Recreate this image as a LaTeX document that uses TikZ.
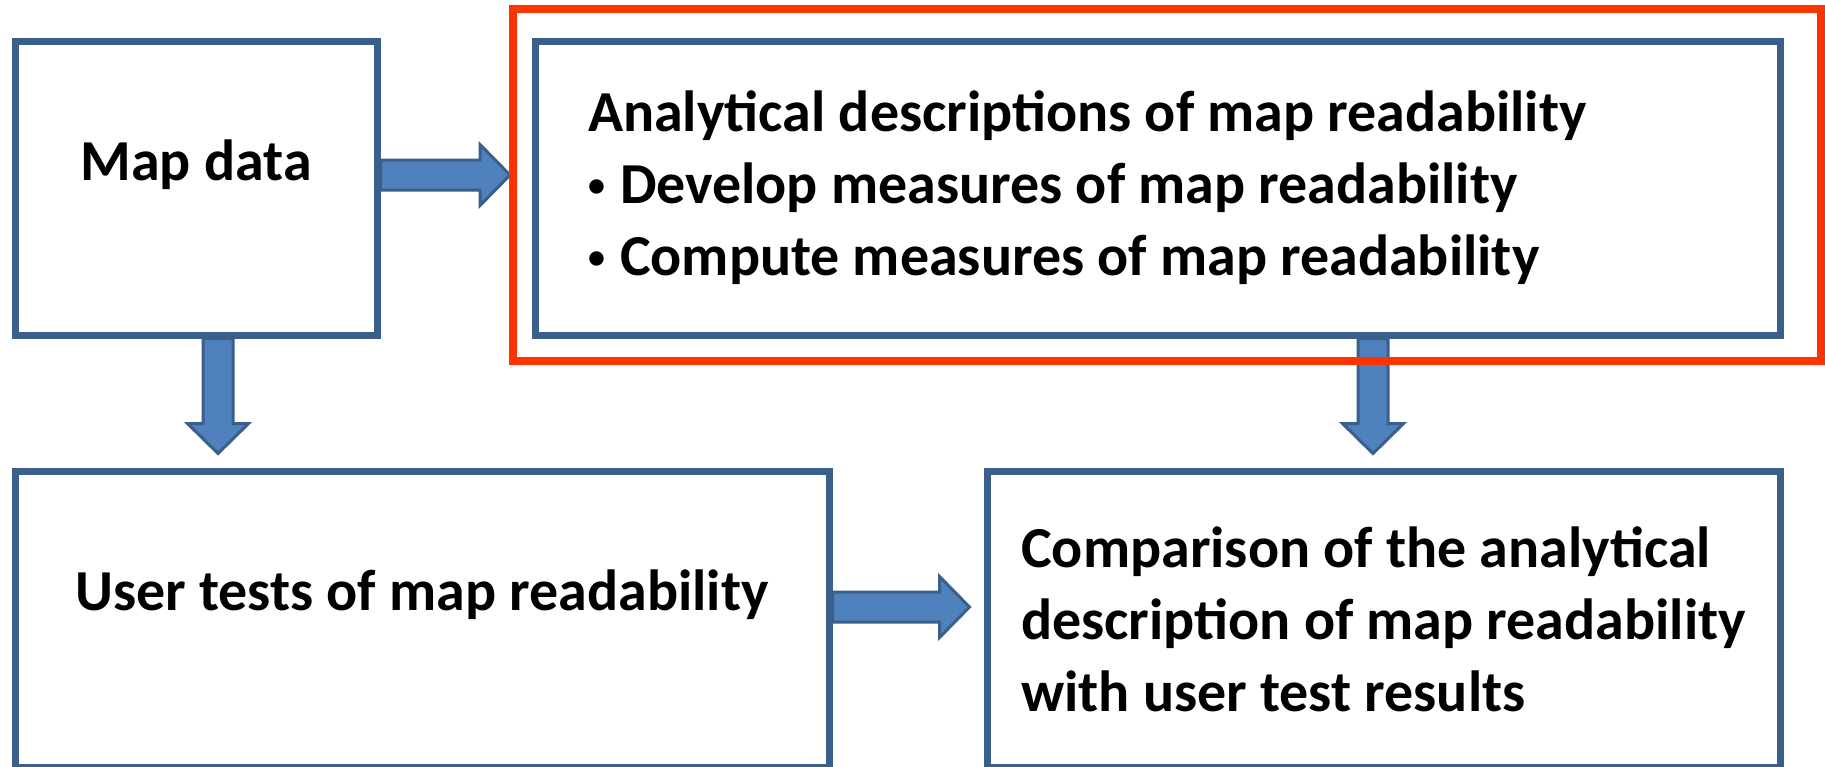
\documentclass[tikz,border=0pt]{standalone}
\usepackage{fontspec}
\setmainfont{Carlito}
\usetikzlibrary{calc}

\definecolor{boxblue}{HTML}{3A5F8B}
\definecolor{arrowblue}{HTML}{4F81BD}
\definecolor{markred}{HTML}{FF3300}

\newcommand{\blockright}[2]{%
  \filldraw[blockarrow] let \p1=(#1), \p2=(#2) in
    (\x1,\y1+15pt) -- (\x2-30pt,\y1+15pt) -- (\x2-30pt,\y1+30.5pt) -- (\x2,\y1)
    -- (\x2-30pt,\y1-30.5pt) -- (\x2-30pt,\y1-15pt) -- (\x1,\y1-15pt) -- cycle;}
\newcommand{\blockdown}[2]{%
  \filldraw[blockarrow] let \p1=(#1), \p2=(#2) in
    (\x1-15pt,\y1) -- (\x1-15pt,\y2+30pt) -- (\x1-30.5pt,\y2+30pt) -- (\x1,\y2)
    -- (\x1+30.5pt,\y2+30pt) -- (\x1+15pt,\y2+30pt) -- (\x1+15pt,\y1) -- cycle;}
\newcommand{\smallbullet}{\makebox[32pt][l]{\raisebox{7pt}{\fontsize{34pt}{34pt}\selectfont•}}}

\begin{document}
\begin{tikzpicture}[x=1pt,y=-1pt,
  box/.style={draw=boxblue,line width=7pt,fill=white,minimum height=294pt,
    font=\fontsize{58pt}{72pt}\selectfont\bfseries},
  blockarrow/.style={fill=arrowblue,draw=boxblue,line width=3pt},
  highlight/.style={draw=markred,line width=8pt}]
\path[use as bounding box,fill=white] (0,0) rectangle (1825,766);

\node[box,minimum width=362pt,text height=42pt,text depth=57pt] (mapdata) at (196,188) {Map data};
\node[box,minimum width=1245pt,text width=1139pt,inner xsep=53pt,align=flush left] (analysis) at (1157.5,188)
  {Analytical descriptions of map readability\\
   \smallbullet Develop measures of map readability\\
   \smallbullet Compute measures of map readability};
\node[box,minimum width=814pt,minimum height=296pt,text height=42pt,text depth=60pt] (usertests) at (422,619)
  {User tests of map readability};
\node[box,minimum width=793pt,minimum height=296pt,align=left] (compare) at (1383.5,619)
  {Comparison of the analytical\\description of map readability\\with user test results};
\node[minimum width=1308pt,minimum height=352pt,inner sep=0pt,outer sep=0pt] (focus) at (1167,185) {};

\blockright{[yshift=13pt]mapdata.east}{[xshift=-3pt]focus.west}
\blockdown{[xshift=22pt]mapdata.south}{[yshift=14pt]usertests.north}
\blockdown{[xshift=215.5pt]analysis.south}{[yshift=14pt]compare.north}
\blockright{[yshift=12pt]usertests.east}{[xshift=-14pt]compare.west}

\draw[highlight] (focus.north west) rectangle (focus.south east);
\end{tikzpicture}
\end{document}
